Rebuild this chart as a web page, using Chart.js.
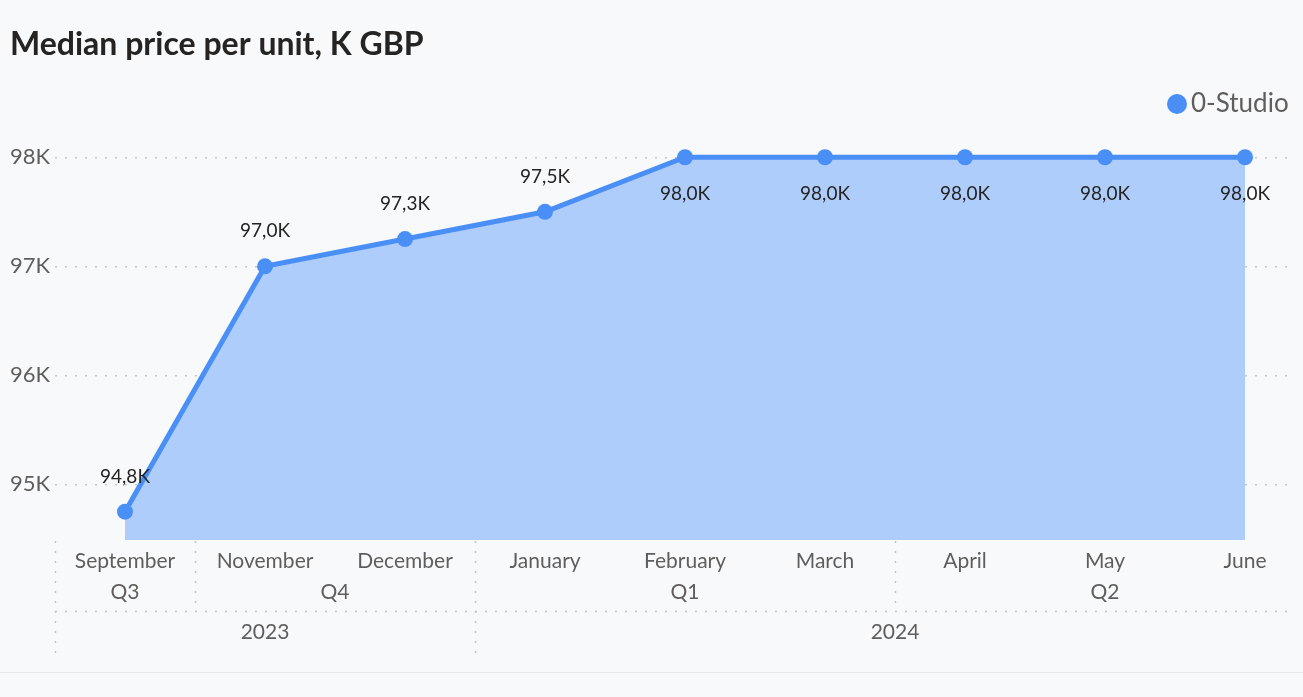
<!DOCTYPE html>
<html>
<head>
<meta charset="utf-8">
<title>Median price per unit, K GBP</title>
<script src="https://cdn.jsdelivr.net/npm/chart.js@4.4.1/dist/chart.umd.min.js"></script>
<style>
    html, body { margin: 0; padding: 0; background: #f8f9fb; }
    #wrap { position: relative; width: 1303px; height: 697px; overflow: hidden; }
    #footer { position: absolute; left: 0; top: 672px; width: 1303px; height: 25px; border-top: 1px solid #e4e6ea; background: #f8f9fb; }
</style>
</head>
<body>
<div id="wrap">
    <canvas id="priceChart" width="1303" height="697"></canvas>
    <div id="footer"></div>
</div>
<script>
// Chart data
const chartTitle = 'Median price per unit, K GBP';
const seriesName = '0-Studio';
const months = ['September', 'November', 'December', 'January', 'February', 'March', 'April', 'May', 'June'];
const quarters = ['Q3', 'Q4', 'Q4', 'Q1', 'Q1', 'Q1', 'Q2', 'Q2', 'Q2'];
const years = ['2023', '2023', '2023', '2024', '2024', '2024', '2024', '2024', '2024'];
const studioPrices = [94.75, 97.0, 97.25, 97.5, 98.0, 98.0, 98.0, 98.0, 98.0]; // K GBP
const yTicks = [95, 96, 97, 98];

const lineColor = '#4a8ff6';
const fillColor = '#aecdfb';
const textDark = '#252423';
const textGrey = '#605e5c';
const dotColor = '#c8c6c4';
const fontFamily = 'Lato, "Open Sans", sans-serif';

// Group consecutive equal keys -> [{label, from, to}]
function groupRuns(keys, labels) {
    const runs = [];
    keys.forEach((k, i) => {
        const last = runs[runs.length - 1];
        if (last && last.key === k) {
            last.to = i;
        } else {
            runs.push({ key: k, label: labels[i], from: i, to: i });
        }
    });
    return runs;
}

function formatK(v) {
    return v.toFixed(1).replace('.', ',') + 'K';
}

// Title and legend
const headerPlugin = {
    id: 'header',
    afterDraw(chart) {
        const ctx = chart.ctx;
        ctx.save();
        ctx.textBaseline = 'middle';
        ctx.textAlign = 'left';
        ctx.fillStyle = textDark;
        ctx.font = `bold 32px ${fontFamily}`;
        ctx.fillText(chartTitle, 10, 45);

        ctx.fillStyle = lineColor;
        ctx.beginPath();
        ctx.arc(1177, 104, 10, 0, Math.PI * 2);
        ctx.fill();
        ctx.fillStyle = textGrey;
        ctx.font = `26px ${fontFamily}`;
        ctx.fillText(seriesName, 1191, 104);
        ctx.restore();
    }
};

// Value labels above / below points
const dataLabelPlugin = {
    id: 'dataLabels',
    afterDatasetsDraw(chart) {
        const ctx = chart.ctx;
        const meta = chart.getDatasetMeta(0);
        const top = Math.max(...studioPrices);
        ctx.save();
        ctx.font = `19px ${fontFamily}`;
        ctx.fillStyle = textDark;
        ctx.textAlign = 'center';
        ctx.textBaseline = 'middle';
        meta.data.forEach((pt, i) => {
            const v = studioPrices[i];
            const dy = v >= top ? 37 : -35;
            ctx.fillText(formatK(v), pt.x, pt.y + dy);
        });
        ctx.restore();
    }
};

// Month / quarter / year axis
const hierarchyPlugin = {
    id: 'hierarchy',
    afterDraw(chart) {
        const ctx = chart.ctx;
        const x = chart.scales.x;
        const area = chart.chartArea;
        const base = area.bottom;
        const monthY = base + 21, quarterY = base + 52, yearY = base + 92;
        const rowSplit = base + 71, quarterEnd = base + 68, yearEnd = base + 113;

        ctx.save();
        ctx.textAlign = 'center';
        ctx.textBaseline = 'middle';
        ctx.fillStyle = textGrey;
        ctx.font = `21px ${fontFamily}`;
        months.forEach((m, i) => ctx.fillText(m, x.getPixelForValue(i), monthY));

        const qRuns = groupRuns(quarters.map((q, i) => years[i] + q), quarters);
        const yRuns = groupRuns(years, years);
        qRuns.forEach(r => {
            ctx.fillText(r.label, x.getPixelForValue((r.from + r.to) / 2), quarterY);
        });
        yRuns.forEach(r => {
            const mid = (x.getPixelForValue(r.from - 0.5) + x.getPixelForValue(r.to + 0.5)) / 2;
            ctx.fillText(r.label, mid, yearY);
        });

        // dotted separators
        ctx.strokeStyle = dotColor;
        ctx.lineWidth = 1.5;
        ctx.setLineDash([2, 8]);
        const yearStarts = yRuns.map(r => r.from);
        qRuns.forEach(r => {
            const px = Math.round(x.getPixelForValue(r.from - 0.5)) + 0.5;
            ctx.beginPath();
            ctx.moveTo(px, base + 1);
            ctx.lineTo(px, yearStarts.includes(r.from) ? yearEnd : quarterEnd);
            ctx.stroke();
        });
        ctx.beginPath();
        ctx.moveTo(area.left, rowSplit + 0.5);
        ctx.lineTo(area.right, rowSplit + 0.5);
        ctx.stroke();
        ctx.restore();
    }
};

const ctx = document.getElementById('priceChart').getContext('2d');
const myChart = new Chart(ctx, {
    type: 'line',
    data: {
        datasets: [{
            label: seriesName,
            data: studioPrices.map((v, i) => ({ x: i, y: v })),
            borderColor: lineColor,
            backgroundColor: fillColor,
            fill: 'start',
            borderWidth: 5,
            pointRadius: 8,
            pointBorderWidth: 0,
            pointBackgroundColor: lineColor,
            tension: 0
        }]
    },
    options: {
        responsive: false,
        animation: false,
        layout: { padding: { left: 10, right: 3, top: 130, bottom: 157 } },
        plugins: {
            legend: { display: false },
            title: { display: false },
            tooltip: { enabled: false }
        },
        scales: {
            x: {
                type: 'linear',
                display: false,
                min: -0.5,
                max: months.length - 1 + 0.357
            },
            y: {
                min: 94.49,
                max: 98.25,
                afterBuildTicks: axis => { axis.ticks = yTicks.map(v => ({ value: v })); },
                afterFit: axis => { axis.width = 45; },
                ticks: {
                    padding: 5,
                    color: textGrey,
                    font: { family: fontFamily, size: 22 },
                    callback: v => v + 'K'
                },
                grid: { color: dotColor, lineWidth: 1.5, drawTicks: false },
                border: { display: false, dash: [2, 8] }
            }
        }
    },
    plugins: [headerPlugin, dataLabelPlugin, hierarchyPlugin]
});
</script>
</body>
</html>
